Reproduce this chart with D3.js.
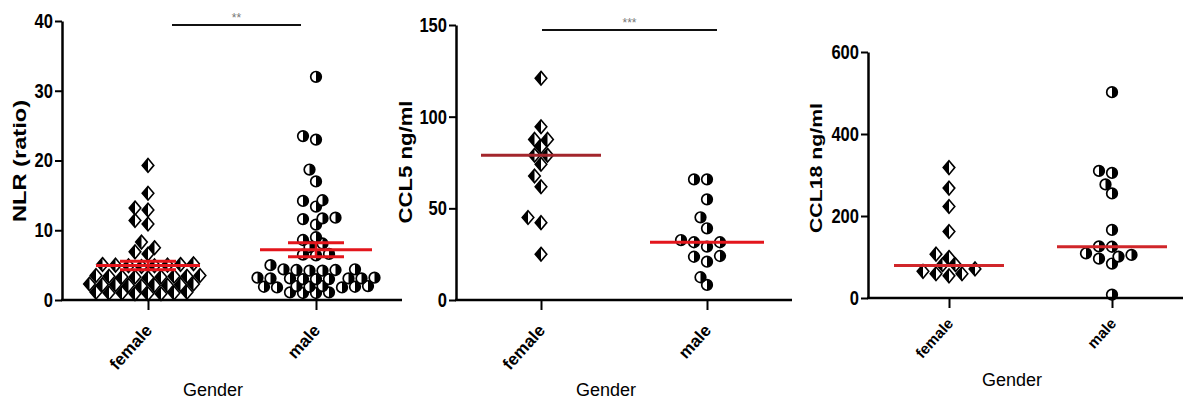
<!DOCTYPE html>
<html>
<head>
<meta charset="utf-8">
<script src="https://cdn.jsdelivr.net/npm/d3@7"></script>
<style>
  body { margin: 0; background: #fff; }
  svg { display: block; }
</style>
</head>
<body>
<div id="chart"></div>
<script>
// categories
var genders = ["female", "male"];

// NLR (ratio)
var nlrFemale = [19.3, 15.3, 13.2, 12.9, 11.4, 10.9, 8.3, 7.5, 6.9, 6.6,
  5.2, 5.1, 5.1, 5.0, 5.0, 4.9, 4.9, 4.8,
  3.5, 3.5, 3.4, 3.4, 3.4, 3.3, 3.3, 3.3, 3.2,
  2.3, 2.3, 2.2, 2.2, 2.2, 2.1, 2.1, 2.1, 2.0,
  1.1, 1.1, 1.0, 1.0, 1.0, 0.9, 0.9, 0.9];
var nlrMale = [32.0, 23.5, 23.0, 18.7, 17.0, 14.3, 14.2, 13.4, 11.8, 11.7, 11.6, 10.8,
  9.0, 8.6, 8.1, 7.6, 6.6, 6.5, 6.4, 5.0,
  4.4, 4.4, 4.3, 4.3, 4.2, 4.2,
  3.2, 3.2, 3.1, 3.1, 3.1, 3.0, 3.0, 3.0, 3.1,
  2.0, 2.0, 2.0, 1.9, 1.9, 1.9, 1.8, 1.8,
  1.1, 1.1, 1.0, 1.0];
var nlrMean = [4.95, 7.2];
var nlrSem = [0.6, 1.0];
var nlrTicks = [0, 10, 20, 30, 40];

// CCL5 ng/ml
var ccl5Female = [121, 94.5, 87.6, 87.6, 83.6, 79, 79, 74, 67.6, 61.8, 45, 42.2, 25];
var ccl5Male = [65.8, 65.8, 54.9, 45.1, 39.1, 32.7, 31.5, 31.5, 29.1, 24, 23.6, 20.9, 12.4, 8.2];
var ccl5Median = [79, 31.5];
var ccl5Ticks = [0, 50, 100, 150];

// CCL18 ng/ml
var ccl18Female = [318, 268, 223, 162, 107, 99, 81, 81, 71, 65, 59, 59, 54];
var ccl18Male = [502, 310, 305, 277, 255, 166, 126, 125, 109, 105, 101, 96, 84, 8];
var ccl18Median = [79, 125];
var ccl18Ticks = [0, 200, 400, 600];

var panels = [
  { left: 62, right: 402, y0: 300, y1: 21, ticks: nlrTicks, xr: [148, 316],
    data: [nlrFemale, nlrMale], center: nlrMean, sem: nlrSem,
    lineColor: ["#e3161c", "#e3161c"], half: [52, 56],
    label: "NLR (ratio)", lx: 20, ly: 161, llen: 122, lsize: 18, lweight: "bold",
    sig: { x1: 172, x2: 301, y: 25, text: "**" },
    catSize: 17, catY: 331, gx: 213, gy: 396 },
  { left: 456, right: 792, y0: 300, y1: 25, ticks: ccl5Ticks, xr: [541, 707],
    data: [ccl5Female, ccl5Male], center: ccl5Median, sem: null,
    lineColor: ["#a3262c", "#e3161c"], half: [60, 57],
    label: "CCL5 ng/ml", lx: 406, ly: 162, llen: 123, lsize: 18, lweight: "bold",
    sig: { x1: 542, x2: 717, y: 30, text: "***" },
    catSize: 17, catY: 331, gx: 606, gy: 396 },
  { left: 868, right: 1183, y0: 298, y1: 52, ticks: ccl18Ticks, xr: [949, 1112],
    data: [ccl18Female, ccl18Male], center: ccl18Median, sem: null,
    lineColor: ["#d0262a", "#d0262a"], half: [55, 55],
    label: "CCL18 ng/ml", lx: 816, ly: 168, llen: 130, lsize: 16, lweight: "bold",
    sig: null,
    catSize: 15, catY: 324, gx: 1012, gy: 386 }
];

var svg = d3.select("#chart").append("svg")
  .attr("width", 1183)
  .attr("height", 403);

var textFont = "'Liberation Sans', Arial, sans-serif";

// simple column-scatter layout: place each point as close to centre as it can go
function swarm(values, y, cx, step, rowH) {
  var sorted = values.slice().sort(function(a, b) { return a - b; });
  var placed = [];
  sorted.forEach(function(v) {
    var py = y(v);
    for (var k = 0; k < 60; k++) {
      var off = (k === 0) ? 0 : (k % 2 === 1 ? -1 : 1) * Math.ceil(k / 2) * step / 2;
      var hit = placed.some(function(p) {
        var dx = Math.abs(p.x - (cx + off)) / step, dy = Math.abs(p.y - py) / rowH;
        return dx + dy < 0.99;
      });
      if (!hit) { placed.push({ x: cx + off, y: py, v: v }); break; }
    }
  });
  return placed;
}

function diamond(g, x, y) {
  var w = 5.8, h = 6.8;
  g.append("path")
    .attr("d", "M" + x + "," + (y - h) + "L" + (x + w) + "," + y + "L" + x + "," + (y + h) + "L" + (x - w) + "," + y + "Z")
    .attr("fill", "#fff").attr("stroke", "#000").attr("stroke-width", 1.6);
  g.append("path")
    .attr("d", "M" + x + "," + (y - h) + "L" + x + "," + (y + h) + "L" + (x - w) + "," + y + "Z")
    .attr("fill", "#000");
}

function halfCircle(g, x, y) {
  var r = 5.3;
  g.append("circle").attr("cx", x).attr("cy", y).attr("r", r)
    .attr("fill", "#fff").attr("stroke", "#000").attr("stroke-width", 1.7);
  g.append("path")
    .attr("d", "M" + x + "," + (y - r) + "A" + r + "," + r + " 0 0 1 " + x + "," + (y + r) + "Z")
    .attr("fill", "#000");
}

panels.forEach(function(p) {
  var g = svg.append("g");
  var maxV = p.ticks[p.ticks.length - 1];
  var y = d3.scaleLinear().domain([0, maxV]).range([p.y0, p.y1]);
  var x = d3.scalePoint().domain(genders).range(p.xr);

  // points
  genders.forEach(function(gd, i) {
    var pts = swarm(p.data[i], y, x(gd), 13, 12);
    pts.forEach(function(pt) {
      if (i === 0) diamond(g, pt.x, pt.y); else halfCircle(g, pt.x, pt.y);
    });
  });

  // centre lines (and SEM)
  genders.forEach(function(gd, i) {
    var cx = x(gd);
    g.append("line")
      .attr("x1", cx - p.half[i]).attr("x2", cx + p.half[i])
      .attr("y1", y(p.center[i])).attr("y2", y(p.center[i]))
      .attr("stroke", p.lineColor[i]).attr("stroke-width", 3);
    if (p.sem) {
      var top = y(p.center[i] + p.sem[i]), bot = y(p.center[i] - p.sem[i]);
      g.append("line").attr("x1", cx).attr("x2", cx).attr("y1", top).attr("y2", bot)
        .attr("stroke", p.lineColor[i]).attr("stroke-width", 2.5);
      [top, bot].forEach(function(yy) {
        g.append("line").attr("x1", cx - 28).attr("x2", cx + 28).attr("y1", yy).attr("y2", yy)
          .attr("stroke", p.lineColor[i]).attr("stroke-width", 3);
      });
    }
  });

  // y axis
  var ya = g.append("g")
    .attr("transform", "translate(" + p.left + ",0)")
    .call(d3.axisLeft(y).tickValues(p.ticks).tickSize(7).tickSizeOuter(0).tickPadding(2));
  ya.select(".domain").attr("stroke", "#000").attr("stroke-width", 2.5);
  ya.selectAll(".tick line").attr("stroke", "#000").attr("stroke-width", 2);
  ya.selectAll(".tick text")
    .attr("fill", "#000")
    .style("font-family", textFont)
    .style("font-weight", "bold")
    .style("font-size", "20px")
    .each(function() {
      var t = d3.select(this);
      t.attr("textLength", t.text().length * 9.2).attr("lengthAdjust", "spacingAndGlyphs");
    });

  // x axis
  g.append("line")
    .attr("x1", p.left - 1).attr("x2", p.right)
    .attr("y1", p.y0).attr("y2", p.y0)
    .attr("stroke", "#000").attr("stroke-width", 2.5);
  var xa = g.append("g")
    .attr("transform", "translate(0," + p.y0 + ")")
    .call(d3.axisBottom(x).tickSize(10).tickFormat(""));
  xa.select(".domain").remove();
  xa.selectAll(".tick line").attr("stroke", "#000").attr("stroke-width", 2);

  // category labels
  genders.forEach(function(gd) {
    g.append("text")
      .attr("transform", "translate(" + (x(gd) + 5) + "," + p.catY + ") rotate(-48)")
      .attr("text-anchor", "end")
      .style("font-family", textFont)
      .style("font-weight", "bold")
      .style("font-size", p.catSize + "px")
      .text(gd);
  });

  // axis titles
  g.append("text")
    .attr("transform", "translate(" + p.lx + "," + p.ly + ") rotate(-90)")
    .attr("text-anchor", "middle")
    .attr("dominant-baseline", "central")
    .attr("textLength", p.llen)
    .attr("lengthAdjust", "spacingAndGlyphs")
    .style("font-family", textFont)
    .style("font-weight", p.lweight)
    .style("font-size", p.lsize + "px")
    .text(p.label);

  g.append("text")
    .attr("x", p.gx).attr("y", p.gy)
    .attr("text-anchor", "middle")
    .style("font-family", textFont)
    .style("font-size", "18px")
    .text("Gender");

  // significance bar
  if (p.sig) {
    g.append("line")
      .attr("x1", p.sig.x1).attr("x2", p.sig.x2)
      .attr("y1", p.sig.y).attr("y2", p.sig.y)
      .attr("stroke", "#111").attr("stroke-width", 2.2);
    g.append("text")
      .attr("x", (p.sig.x1 + p.sig.x2) / 2).attr("y", p.sig.y - 3)
      .attr("text-anchor", "middle")
      .attr("fill", "#777")
      .style("font-family", textFont)
      .style("font-size", "12px")
      .text(p.sig.text);
  }
});
</script>
</body>
</html>
